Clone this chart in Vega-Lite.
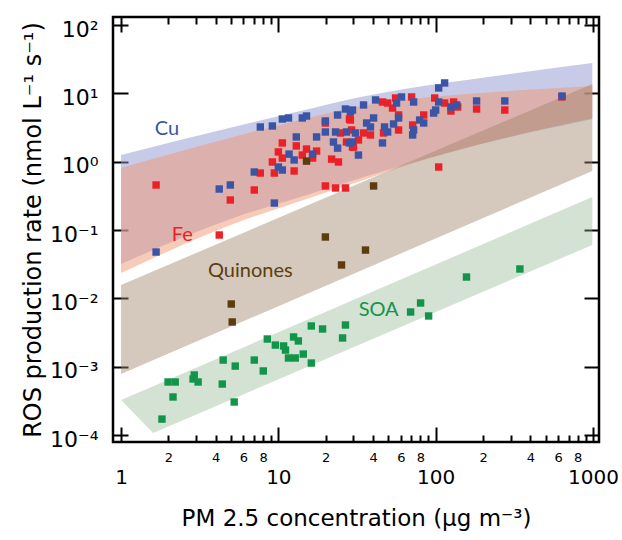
{
  "$schema": "https://vega.github.io/schema/vega-lite/v6.json",
  "width": 486,
  "height": 425,
  "autosize": {"type": "none"},
  "padding": {"left": 113, "top": 17, "right": 23, "bottom": 98},
  "background": "white",
  "config": {
    "view": {"stroke": "#000", "strokeWidth": 2.5},
    "axis": {"domain": false, "grid": false, "tickColor": "#000", "tickWidth": 2, "labelColor": "#000", "titleColor": "#000", "labelFont": "DejaVu Sans", "titleFont": "DejaVu Sans", "titleFontWeight": "normal"}
  },
  "datasets": {
    "cu_band": [
      {"pm": 1, "lo": 0.0318, "hi": 1.253},
      {"pm": 5.17, "lo": 0.150, "hi": 3.22},
      {"pm": 13.8, "lo": 0.304, "hi": 5.52},
      {"pm": 33.3, "lo": 0.577, "hi": 8.85},
      {"pm": 69.3, "lo": 0.957, "hi": 12.0},
      {"pm": 193.5, "lo": 1.814, "hi": 16.8},
      {"pm": 990, "lo": 4.21, "hi": 27.8}
    ],
    "fe_band": [
      {"pm": 1, "lo": 0.0235, "hi": 0.807},
      {"pm": 5.17, "lo": 0.1225, "hi": 2.30},
      {"pm": 13.8, "lo": 0.266, "hi": 4.07},
      {"pm": 33.3, "lo": 0.522, "hi": 6.53},
      {"pm": 69.3, "lo": 0.925, "hi": 8.27},
      {"pm": 193.5, "lo": 1.814, "hi": 10.12},
      {"pm": 990, "lo": 4.36, "hi": 12.8}
    ],
    "q_band": [
      {"pm": 1, "lo": 0.000782, "hi": 0.01567},
      {"pm": 990, "lo": 0.731, "hi": 13.7}
    ],
    "soa_band": [
      {"pm": 1, "lo": 0.000325, "hi": 0.000325},
      {"pm": 1.6, "lo": 0.000107, "hi": 0.000518},
      {"pm": 990, "lo": 0.0604, "hi": 0.304}
    ],
    "labels": [
      {"s": "Cu", "pm": 1.96, "ros": 3.01},
      {"s": "Fe", "pm": 2.45, "ros": 0.0845},
      {"s": "Quinones", "pm": 6.63, "ros": 0.0251},
      {"s": "SOA", "pm": 43.4, "ros": 0.00675}
    ],
    "points": [
      {"s": "SOA", "pm": 1.82, "ros": 0.000171},
      {"s": "SOA", "pm": 2.14, "ros": 0.00036},
      {"s": "SOA", "pm": 1.99, "ros": 0.000597},
      {"s": "SOA", "pm": 2.21, "ros": 0.000597},
      {"s": "SOA", "pm": 2.87, "ros": 0.000661},
      {"s": "SOA", "pm": 2.92, "ros": 0.000755},
      {"s": "SOA", "pm": 3.09, "ros": 0.000597},
      {"s": "SOA", "pm": 4.40, "ros": 0.000557},
      {"s": "SOA", "pm": 4.46, "ros": 0.00125},
      {"s": "SOA", "pm": 5.24, "ros": 0.000304},
      {"s": "SOA", "pm": 5.32, "ros": 0.00102},
      {"s": "SOA", "pm": 7.03, "ros": 0.00125},
      {"s": "SOA", "pm": 8.02, "ros": 0.000865},
      {"s": "SOA", "pm": 8.51, "ros": 0.00254},
      {"s": "SOA", "pm": 9.57, "ros": 0.00207},
      {"s": "SOA", "pm": 10.8, "ros": 0.00201},
      {"s": "SOA", "pm": 11.1, "ros": 0.00175},
      {"s": "SOA", "pm": 11.6, "ros": 0.00134},
      {"s": "SOA", "pm": 12.8, "ros": 0.00134},
      {"s": "SOA", "pm": 12.5, "ros": 0.00272},
      {"s": "SOA", "pm": 13.4, "ros": 0.00238},
      {"s": "SOA", "pm": 14.4, "ros": 0.00153},
      {"s": "SOA", "pm": 16.2, "ros": 0.00394},
      {"s": "SOA", "pm": 16.2, "ros": 0.00113},
      {"s": "SOA", "pm": 19.1, "ros": 0.00356},
      {"s": "SOA", "pm": 25.6, "ros": 0.00263},
      {"s": "SOA", "pm": 26.7, "ros": 0.00407},
      {"s": "SOA", "pm": 69.3, "ros": 0.00631},
      {"s": "SOA", "pm": 80.2, "ros": 0.00855},
      {"s": "SOA", "pm": 90.2, "ros": 0.00552},
      {"s": "SOA", "pm": 157, "ros": 0.0205},
      {"s": "SOA", "pm": 343, "ros": 0.0269},
      {"s": "Fe", "pm": 1.67, "ros": 0.456},
      {"s": "Fe", "pm": 4.95, "ros": 0.275},
      {"s": "Fe", "pm": 7.03, "ros": 0.385},
      {"s": "Fe", "pm": 7.68, "ros": 0.682},
      {"s": "Fe", "pm": 9.43, "ros": 0.682},
      {"s": "Fe", "pm": 10.6, "ros": 1.88},
      {"s": "Fe", "pm": 10, "ros": 1.39},
      {"s": "Fe", "pm": 13.0, "ros": 1.70},
      {"s": "Fe", "pm": 15.1, "ros": 1.53},
      {"s": "Fe", "pm": 17.5, "ros": 1.43},
      {"s": "Fe", "pm": 14.2, "ros": 1.25},
      {"s": "Fe", "pm": 9.16, "ros": 0.99},
      {"s": "Fe", "pm": 10.6, "ros": 1.13},
      {"s": "Fe", "pm": 16.5, "ros": 1.13},
      {"s": "Fe", "pm": 12.6, "ros": 0.731},
      {"s": "Fe", "pm": 21.8, "ros": 1.09},
      {"s": "Fe", "pm": 24.1, "ros": 0.99},
      {"s": "Fe", "pm": 19.9, "ros": 0.441},
      {"s": "Fe", "pm": 23.1, "ros": 0.412},
      {"s": "Fe", "pm": 26.7, "ros": 0.412},
      {"s": "Fe", "pm": 28.3, "ros": 4.21},
      {"s": "Fe", "pm": 29.2, "ros": 2.91},
      {"s": "Fe", "pm": 27.1, "ros": 1.94},
      {"s": "Fe", "pm": 24.8, "ros": 2.63},
      {"s": "Fe", "pm": 29.6, "ros": 1.64},
      {"s": "Fe", "pm": 4.21, "ros": 0.0845},
      {"s": "Fe", "pm": 28.7, "ros": 4.07},
      {"s": "Fe", "pm": 45.9, "ros": 7.47},
      {"s": "Fe", "pm": 49.5, "ros": 7.22},
      {"s": "Fe", "pm": 55.6, "ros": 8.55},
      {"s": "Fe", "pm": 70.3, "ros": 8.85},
      {"s": "Fe", "pm": 98.6, "ros": 8.55},
      {"s": "Fe", "pm": 114, "ros": 7.22},
      {"s": "Fe", "pm": 130, "ros": 7.47},
      {"s": "Fe", "pm": 182, "ros": 5.90},
      {"s": "Fe", "pm": 275, "ros": 5.70},
      {"s": "Fe", "pm": 53.2, "ros": 6.1},
      {"s": "Fe", "pm": 58.1, "ros": 4.82},
      {"s": "Fe", "pm": 83.9, "ros": 4.82},
      {"s": "Fe", "pm": 71.4, "ros": 3.44},
      {"s": "Fe", "pm": 58.1, "ros": 2.91},
      {"s": "Fe", "pm": 46.6, "ros": 2.63},
      {"s": "Fe", "pm": 34.8, "ros": 2.63},
      {"s": "Fe", "pm": 38.5, "ros": 2.46},
      {"s": "Fe", "pm": 32.3, "ros": 2.08},
      {"s": "Fe", "pm": 30.0, "ros": 1.64},
      {"s": "Fe", "pm": 125, "ros": 5.52},
      {"s": "Fe", "pm": 138, "ros": 6.31},
      {"s": "Fe", "pm": 104.5, "ros": 0.835},
      {"s": "Fe", "pm": 19.9, "ros": 3.68},
      {"s": "Fe", "pm": 635, "ros": 8.85},
      {"s": "Cu", "pm": 1.67, "ros": 0.0476},
      {"s": "Cu", "pm": 4.21, "ros": 0.398},
      {"s": "Cu", "pm": 4.95, "ros": 0.456},
      {"s": "Cu", "pm": 7.03, "ros": 0.706},
      {"s": "Cu", "pm": 9.43, "ros": 0.248},
      {"s": "Cu", "pm": 7.68, "ros": 3.22},
      {"s": "Cu", "pm": 9.16, "ros": 3.33},
      {"s": "Cu", "pm": 10.6, "ros": 4.21},
      {"s": "Cu", "pm": 11.6, "ros": 4.36},
      {"s": "Cu", "pm": 14.2, "ros": 4.36},
      {"s": "Cu", "pm": 15.1, "ros": 4.66},
      {"s": "Cu", "pm": 19.9, "ros": 3.94},
      {"s": "Cu", "pm": 23.8, "ros": 4.82},
      {"s": "Cu", "pm": 26.7, "ros": 5.90},
      {"s": "Cu", "pm": 28.7, "ros": 5.33},
      {"s": "Cu", "pm": 13.0, "ros": 2.30},
      {"s": "Cu", "pm": 17.5, "ros": 2.30},
      {"s": "Cu", "pm": 19.9, "ros": 2.72},
      {"s": "Cu", "pm": 23.1, "ros": 2.72},
      {"s": "Cu", "pm": 27.1, "ros": 2.72},
      {"s": "Cu", "pm": 30.9, "ros": 2.63},
      {"s": "Cu", "pm": 22.4, "ros": 1.94},
      {"s": "Cu", "pm": 23.8, "ros": 1.58},
      {"s": "Cu", "pm": 28.3, "ros": 1.88},
      {"s": "Cu", "pm": 11.7, "ros": 1.29},
      {"s": "Cu", "pm": 12.6, "ros": 1.06},
      {"s": "Cu", "pm": 16.5, "ros": 1.29},
      {"s": "Cu", "pm": 32.3, "ros": 1.25},
      {"s": "Cu", "pm": 10, "ros": 0.835},
      {"s": "Cu", "pm": 10.6, "ros": 0.755},
      {"s": "Cu", "pm": 29.6, "ros": 5.70},
      {"s": "Cu", "pm": 34.8, "ros": 6.76},
      {"s": "Cu", "pm": 41.5, "ros": 8.0},
      {"s": "Cu", "pm": 60.7, "ros": 8.85},
      {"s": "Cu", "pm": 56.4, "ros": 7.22},
      {"s": "Cu", "pm": 72.4, "ros": 7.47},
      {"s": "Cu", "pm": 104.5, "ros": 12.0},
      {"s": "Cu", "pm": 114, "ros": 14.2},
      {"s": "Cu", "pm": 104.5, "ros": 7.47},
      {"s": "Cu", "pm": 100, "ros": 5.70},
      {"s": "Cu", "pm": 97.1, "ros": 5.15},
      {"s": "Cu", "pm": 125, "ros": 6.31},
      {"s": "Cu", "pm": 136, "ros": 6.76},
      {"s": "Cu", "pm": 182, "ros": 7.73},
      {"s": "Cu", "pm": 275, "ros": 7.73},
      {"s": "Cu", "pm": 635, "ros": 9.14},
      {"s": "Cu", "pm": 36.4, "ros": 3.68},
      {"s": "Cu", "pm": 38.5, "ros": 3.22},
      {"s": "Cu", "pm": 40.3, "ros": 4.36},
      {"s": "Cu", "pm": 47.3, "ros": 3.22},
      {"s": "Cu", "pm": 49.5, "ros": 2.72},
      {"s": "Cu", "pm": 54.0, "ros": 3.56},
      {"s": "Cu", "pm": 58.1, "ros": 4.36},
      {"s": "Cu", "pm": 72.4, "ros": 2.91},
      {"s": "Cu", "pm": 71.4, "ros": 2.46},
      {"s": "Cu", "pm": 79.1, "ros": 4.07},
      {"s": "Cu", "pm": 83.9, "ros": 3.68},
      {"s": "Cu", "pm": 29.6, "ros": 1.94},
      {"s": "Cu", "pm": 45.9, "ros": 1.88},
      {"s": "Quinones", "pm": 15.1, "ros": 1.02},
      {"s": "Quinones", "pm": 40.3, "ros": 0.441},
      {"s": "Quinones", "pm": 19.9, "ros": 0.079},
      {"s": "Quinones", "pm": 35.8, "ros": 0.0509},
      {"s": "Quinones", "pm": 25.2, "ros": 0.0308},
      {"s": "Quinones", "pm": 5.02, "ros": 0.00826},
      {"s": "Quinones", "pm": 5.09, "ros": 0.00451}
    ]
  },
  "layer": [
    {
      "data": {"name": "cu_band"},
      "mark": {"type": "area", "color": "#9097d0", "opacity": 0.5, "interpolate": "monotone"},
      "encoding": {
        "x": {"field": "pm", "type": "quantitative", "scale": {"type": "log", "domain": [0.889, 1092], "nice": false},
              "axis": {"orient": "bottom", "values": [1, 10, 100, 1000], "labels": false, "tickSize": -15, "title": null}},
        "y": {"field": "lo", "type": "quantitative", "scale": {"type": "log", "domain": [0.000079, 131], "nice": false},
              "axis": {"orient": "left", "values": [0.0001, 0.001, 0.01, 0.1, 1, 10, 100], "labels": false, "tickSize": -15, "title": null}},
        "y2": {"field": "hi"}
      }
    },
    {
      "data": {"name": "fe_band"},
      "mark": {"type": "area", "color": "#f19571", "opacity": 0.5, "interpolate": "monotone"},
      "encoding": {
        "x": {"field": "pm", "type": "quantitative", "scale": {"type": "log", "domain": [0.889, 1092], "nice": false},
              "axis": {"orient": "bottom", "values": [2, 3, 4, 5, 6, 7, 8, 9, 20, 30, 40, 50, 60, 70, 80, 90, 200, 300, 400, 500, 600, 700, 800, 900], "labels": false, "tickSize": -7, "title": null}},
        "y": {"field": "lo", "type": "quantitative", "scale": {"type": "log", "domain": [0.000079, 131], "nice": false},
              "axis": {"orient": "right", "values": [0.0001, 0.001, 0.01, 0.1, 1, 10, 100], "labels": false, "tickSize": -15, "title": null}},
        "y2": {"field": "hi"}
      }
    },
    {
      "data": {"name": "q_band"},
      "mark": {"type": "area", "color": "#a2856a", "opacity": 0.45},
      "encoding": {
        "x": {"field": "pm", "type": "quantitative", "scale": {"type": "log", "domain": [0.889, 1092], "nice": false},
              "axis": {"orient": "top", "values": [1, 10, 100, 1000], "labels": false, "tickSize": -15, "title": null}},
        "y": {"field": "lo", "type": "quantitative", "scale": {"type": "log", "domain": [0.000079, 131], "nice": false},
              "axis": {"orient": "left", "values": [0.0001, 0.001, 0.01, 0.1, 1, 10, 100], "ticks": false, "labelPadding": 15, "labelFontSize": 22, "labelOffset": 4,
                       "labelExpr": "datum.value > 50 ? '10²' : datum.value > 5 ? '10¹' : datum.value > 0.5 ? '10⁰' : datum.value > 0.05 ? '10⁻¹' : datum.value > 0.005 ? '10⁻²' : datum.value > 0.0005 ? '10⁻³' : '10⁻⁴'",
                       "title": "ROS production rate (nmol L⁻¹ s⁻¹)", "titleFontSize": 24, "titlePadding": 4}},
        "y2": {"field": "hi"}
      }
    },
    {
      "data": {"name": "soa_band"},
      "mark": {"type": "area", "color": "#91b68e", "opacity": 0.4},
      "encoding": {
        "x": {"field": "pm", "type": "quantitative", "scale": {"type": "log", "domain": [0.889, 1092], "nice": false},
              "axis": {"orient": "top", "values": [2, 3, 4, 5, 6, 7, 8, 9, 20, 30, 40, 50, 60, 70, 80, 90, 200, 300, 400, 500, 600, 700, 800, 900], "labels": false, "tickSize": -7, "title": null}},
        "y": {"field": "lo", "type": "quantitative", "scale": {"type": "log", "domain": [0.000079, 131], "nice": false}, "axis": null},
        "y2": {"field": "hi"}
      }
    },
    {
      "data": {"name": "points"},
      "mark": {"type": "square", "size": 55, "opacity": 1, "filled": true},
      "encoding": {
        "x": {"field": "pm", "type": "quantitative", "scale": {"type": "log", "domain": [0.889, 1092], "nice": false},
              "axis": {"orient": "bottom", "values": [2, 4, 6, 8, 20, 40, 60, 80, 200, 400, 600, 800], "ticks": false, "labelPadding": 9, "labelFontSize": 13, "labelExpr": "datum.value < 10 ? format(datum.value, 'd') : datum.value < 100 ? format(datum.value/10, 'd') : format(datum.value/100, 'd')", "title": null}},
        "y": {"field": "ros", "type": "quantitative", "scale": {"type": "log", "domain": [0.000079, 131], "nice": false}, "axis": null},
        "color": {"field": "s", "type": "nominal", "scale": {"domain": ["Cu", "Fe", "Quinones", "SOA"], "range": ["#3b55a6", "#ec2027", "#5c3d12", "#12954a"]}, "legend": null}
      }
    },
    {
      "data": {"name": "labels"},
      "mark": {"type": "text", "font": "Lato", "fontSize": 20, "align": "center", "baseline": "middle"},
      "encoding": {
        "x": {"field": "pm", "type": "quantitative", "scale": {"type": "log", "domain": [0.889, 1092], "nice": false},
              "axis": {"orient": "bottom", "values": [1, 10, 100, 1000], "ticks": false, "labelPadding": 25, "labelFontSize": 20, "labelFlush": false, "labelOverlap": false,
                       "labelExpr": "format(datum.value, 'd')",
                       "title": "PM 2.5 concentration (µg m⁻³)", "titleFontSize": 23, "titlePadding": 20}},
        "y": {"field": "ros", "type": "quantitative", "scale": {"type": "log", "domain": [0.000079, 131], "nice": false}, "axis": null},
        "text": {"field": "s"},
        "color": {"field": "s", "type": "nominal", "scale": {"domain": ["Cu", "Fe", "Quinones", "SOA"], "range": ["#3e5aa9", "#ee3030", "#6b4c26", "#1f9c52"]}, "legend": null}
      }
    }
  ],
  "resolve": {"axis": {"x": "independent", "y": "independent"}}
}
